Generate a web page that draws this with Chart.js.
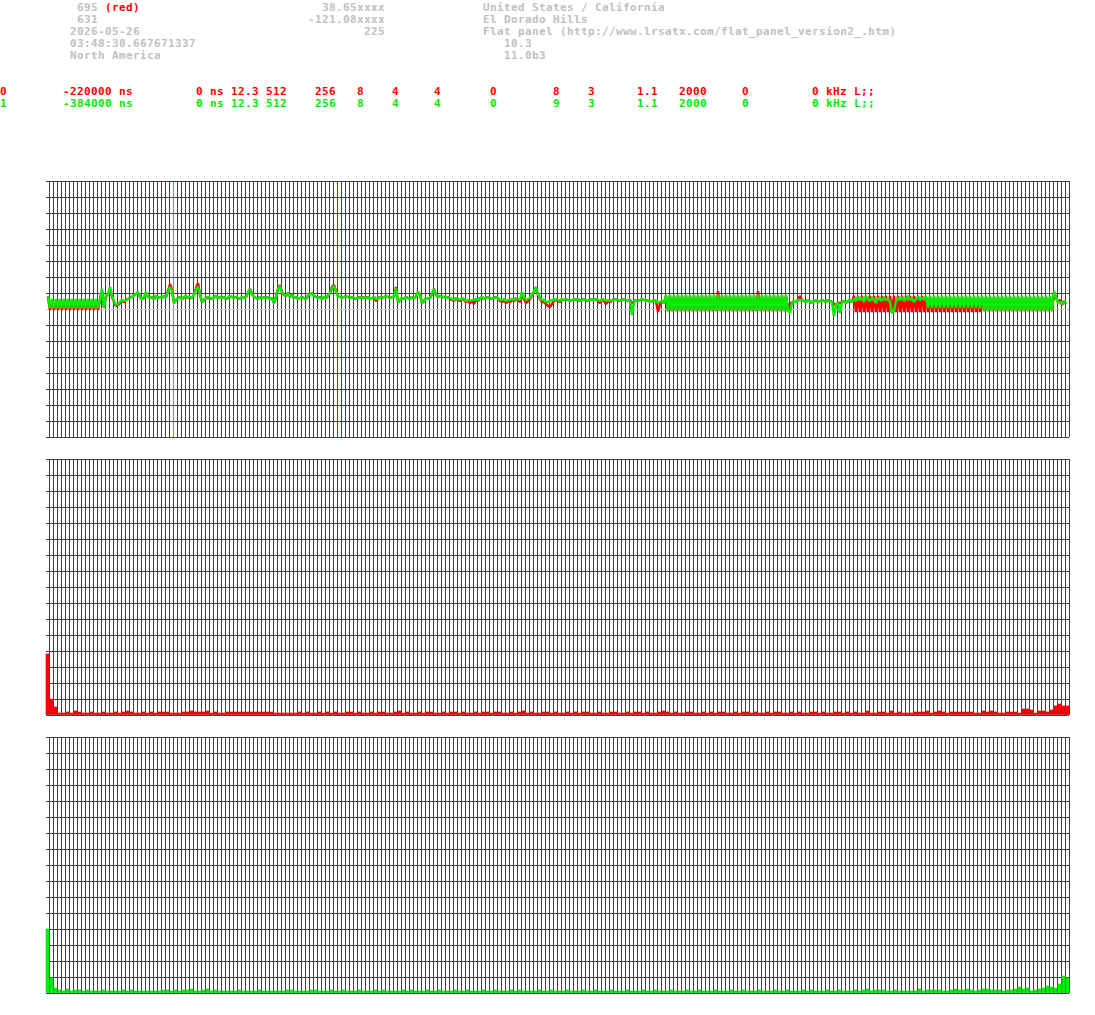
<!DOCTYPE html>
<html>
<head>
<meta charset="utf-8">
<script src="https://cdn.jsdelivr.net/npm/chart.js@4.4.1/dist/chart.umd.min.js"></script>
<style>
body { margin: 0; background: #fff; width: 1095px; height: 1015px; position: relative; overflow: hidden; }
.t { position: absolute; font-family: 'DejaVu Sans Mono', monospace; font-weight: bold; font-size: 11px;
     letter-spacing: 0.38px; line-height: 12px; white-space: pre; }
canvas { position: absolute; left: 0; }
</style>
</head>
<body>
<canvas id="offsets" width="1095" height="266" style="top:176px"></canvas>
<canvas id="histRed" width="1095" height="266" style="top:454px"></canvas>
<canvas id="histGreen" width="1095" height="266" style="top:732px"></canvas>
<script>
// header block: [column, row, text, colour]
const headerText = [
    [11, 0, '695'], [15, 0, '(red)', '#ff0000'], [46, 0, '38.65xxxx'], [69, 0, 'United States / California'],
    [11, 1, '631'], [44, 1, '-121.08xxxx'], [69, 1, 'El Dorado Hills'],
    [10, 2, '2026-05-26'], [52, 2, '225'], [69, 2, 'Flat panel (http://www.lrsatx.com/flat_panel_version2_.htm)'],
    [10, 3, '03:48:30.667671337'], [72, 3, '10.3'],
    [10, 4, 'North America'], [72, 4, '11.0b3']
];
// channel rows
const rowColumns = [0, 9, 28, 45, 51, 56, 62, 70, 79, 84, 91, 97, 106, 116];
const redRow = ['0', '-220000 ns', '0 ns 12.3 512', '256', '8', '4', '4', '0', '8', '3', '1.1', '2000', '0', '0 kHz L;;'];
const greenRow = ['1', '-384000 ns', '0 ns 12.3 512', '256', '8', '4', '4', '0', '9', '3', '1.1', '2000', '0', '0 kHz L;;'];

// top panel: offset trace, one value per sample (512 samples)
const greenOffset = [
    12,20,13,
    1,10,1,10,1,10,1,10,1,10,1,10,1,10,1,10,1,10,1,10,1,10,1,10,1,10,
    20,1,14,14,22,13,8,4,5,7,
    9,8,9,10, 11,12,14,15,17, 12,10,11,17,12,
    11,12,10,13,11,12,11,13,12, 17,22,18, 6,9,
    11,12,10,12,13,11,12,11, 14,20,22,15, 7,9,
    11,12,11,10,12,13,11,12,11,12,10,11,13,12,11,12,11,10,12,11,12,
    16,20,15, 12,11,10,12,11,12,11,12,10,11, 6, 12,20,23,
    17,14,13,16,12,14, 11,12,10,11,12,11,10,
    13,15,16,13,12, 11,12,10,12,11,13, 16,21,23,18,
    13,12,11,12,13,12, 11,12,11,10,11,12,11,12,11,12,10,11,12,
    10,10, 12,11,12,13,12,11,12,12, 21, 7,9,
    11,10,12,11,10,12,11,12, 17,14,6,8, 11,10,11, 15,20,14,
    12,13,12,12,11,12, 11,10,9,11,10,9,11,
    10,8,9,8,9,9,10,9, 11,12,10,11,12,11,10,11,12,11,
    9,9,10,8,9,9,10,9, 11,10,9,17,12,9,10, 11,14,18,22, 15,11,9,
    9,7,7,8,9,9,10,9,8,10,
    9,10,9,8,9,10,9,10,8,9,10,9,8,9,10,9,10,
    9,8,10,9,8,9,8,9, 9,10,9,8,9,10,9,8,9,
    -6,7, 9,8,9,10,9,8,9,7,8,9,8, 6,7,8,6,
    14,-2,14,-2,14,-2,14,-2,14,-2,14,-2,14,-2,14,-2,
    14,-2,14,-2,14,-2,14,-2,14,-2,14,-2,14,-2,14,-2,
    14,-2,14,-2,14,-2,14,-2,14,-2,14,-2,14,-2,14,-2,
    14,-2,14,-2,14,-2,14,-2,14,-2,14,-2,14,-2,
    -4,6, 8,7,9,9,9,8,7,9,8,6,8,9,7,8,9,8,7,9,8,7, -7,4, 6,-4,7,8,6,8,9,7,
    10,8,12,9,11,7,13,10,8,12, 9,6,11,10,8,12,9,10,7,-4, -2,8,11,9,12,8,10,13,9,11, 7,10,12,9,11,10,
    13,1,13,1,13,1,13,1,13,1,13,1,13,1,13,1,13,1,13,1,13,1,13,1,13,1,13,1,
    13,-2,13,-2,13,-2,13,-2,13,-2,13,-2,13,-2,13,-2,13,-2,
    13,-2,13,-2,13,-2,13,-2,13,-2,13,-2,13,-2,13,-2,13,-2,
    18,12, 6,7,5,8,6
];
const redOffset = [
    10,16,12,
    -1,9,-1,9,-1,9,-1,9,-1,9,-1,9,-1,9,-1,9,-1,9,-1,9,-1,9,-1,9,-1,9,
    18,2,13,14,20,12,7,3,4,6,
    8,7,9,10, 11,12,14,15,16, 12,10,11,16,12,
    11,12,10,13,11,12,11,13,12, 18,25,19, 6,9,
    11,12,10,12,13,11,11,11, 14,21,26,14, 7,9,
    11,11,11,10,12,13,11,12,11,12,10,11,13,12,11,12,11,10,12,11,12,
    16,20,15, 12,11,10,12,11,12,11,12,10,11, 6, 12,20,24,
    17,14,13,16,12,14, 11,12,10,11,12,11,10,
    13,15,16,13,12, 11,12,10,12,11,13, 16,22,24,18,
    13,12,11,12,13,12, 11,12,11,10,11,12,11,12,11,12,10,11,12,
    8,10, 12,11,12,13,12,11,12,12, 22, 7,9,
    11,10,12,11,10,12,11,12, 17,14,6,8, 11,10,11, 15,20,14,
    12,13,12,12,11,12, 11,9,8,11,9,8,10,
    9,7,8,6,8,5,9,8, 11,12,10,11,12,11,10,11,12,11,
    8,7,9,6,8,7,9,8, 10,9,7,14,10,6,8, 10,13,17,21, 14,10,7,
    7,5,3,2,5,8,9,8,7,9,
    9,10,9,8,9,10,9,10,8,9,10,9,8,9,10,9,10,
    8,6,10,8,5,8,7,9, 9,10,9,8,9,10,9,8,9,
    6,7, 9,8,9,10,9,8,9,7,8,9,8, -3,5,8,6,
    13,-2,13,-2,13,-2,13,-2,13,-2,13,-2,13,-2,13,-2,
    13,-2,13,-2,13,-2,13,-2,13,-2,18,-2,13,-2,13,-2,
    13,-2,13,-2,13,-2,13,-2,13,-2,13,-2,13,-2,18,-2,
    13,-2,13,-2,13,-2,13,-2,13,-2,13,-2,13,-2,
    6,6, 8,7,9,13,9,8,7,9,8,6,8,9,7,8,9,8,7,9,8,7, 5,4, 6,6,7,8,6,8,9,7,
    13,-3,13,-3,13,-3,13,-3,13,-3,13,-3,13,-3,13,-3,13,-3,
    13,-3,13,-3,13,-3,13,-3,13,-3,13,-3,13,-3,13,-3,13,-3,
    12,-3,12,-3,12,-3,12,-3,12,-3,12,-3,12,-3,12,-3,12,-3,12,-3,12,-3,12,-3,12,-3,12,-3,
    12,-2,12,-2,12,-2,12,-2,12,-2,12,-2,12,-2,12,-2,12,-2,
    12,-2,12,-2,12,-2,12,-2,12,-2,12,-2,12,-2,12,-2,12,-2,
    16,11, 7,9,4,8,5
];

// histograms, 256 bins each
const redHist = [
    61,16,8,2,2,3,2,4,3,2, 2,3,2,2,3,2,2,3,2,3, 4,3,2,2,3,2,3,2,3,3, 3,2,2,2,3,3,4,3,3,3,
    4,2,3,2,2,3,3,3,3,3, 3,3,3,3,3,3,3,2,2,2, 2,2,2,3,2,3,2,2,3,2, 3,2,3,2,2,3,3,2,3,2,
    2,3,2,3,3,2,2,3,4,2, 3,2,2,3,2,3,3,2,2,3, 2,3,3,2,3,2,2,3,2,3, 3,2,3,3,2,2,3,2,3,4,
    2,3,2,2,3,3,2,3,2,2, 3,2,3,2,3,3,2,2,3,2, 2,3,3,2,2,3,2,3,3,2, 3,2,2,3,4,3,2,3,2,2,
    3,3,2,2,3,2,3,2,3,3, 2,2,3,2,3,3,2,3,2,2, 3,2,3,3,2,2,3,2,3,2, 2,3,3,2,3,2,2,3,3,2,
    3,
    2,3,2,2,4,2,2,3,3,2, 4,2,3,2,2,2,3,3,3,4, 2,3,4,3,2,3,3,3,3,3, 3,2,2,4,3,4,3,2,2,3,
    3,3,2,6,6,5,2,4,4,3, 5,9,11,9,9
];
const greenHist = [
    64,15,5,3,2,4,2,3,3,2, 3,2,2,2,3,2,2,2,2,3, 2,3,2,2,2,2,2,2,2,3, 3,2,3,2,3,3,4,2,2,3,
    4,2,3,2,2,2,2,2,3,2, 2,2,2,3,2,2,2,2,2,2, 3,3,2,2,2,2,3,3,2,2, 2,3,2,2,3,2,2,2,3,2,
    2,2,3,2,3,2,2,2,2,3, 2,3,2,2,2,3,2,2,3,2, 2,2,3,2,2,3,2,2,2,3, 2,2,3,2,2,2,3,2,3,2,
    2,2,2,3,2,2,3,2,2,2, 3,2,2,2,3,2,2,3,2,2, 2,3,2,2,2,3,2,2,2,3, 2,2,3,2,2,2,3,2,2,2,
    3,2,2,3,2,2,2,3,2,2, 2,3,2,2,3,2,2,2,3,2, 2,2,3,2,2,3,2,2,2,3, 2,3,2,2,2,3,2,2,3,2,
    2,
    2,3,2,3,4,2,3,3,3,2, 2,3,2,2,2,2,2,4,2,3, 3,3,3,2,2,3,4,3,3,4, 3,2,3,4,4,3,3,3,2,3,
    3,4,6,4,5,2,3,4,5,7, 6,5,9,17,15
];

const RED = '#ff0000';
const GREEN = '#00ee00';
const GRID = '#404040';
const markerCols = { 31: GREEN, 72: RED };

const putText = (col, txt, color, top) => {
    const el = document.createElement('div');
    el.className = 't';
    el.style.left = (col * 7) + 'px';
    el.style.top = top + 'px';
    el.style.color = color;
    el.textContent = txt;
    document.body.appendChild(el);
};
headerText.forEach(h => putText(h[0], h[2], h[3] || '#c0c0c0', 2 + h[1] * 12));
redRow.forEach((s, i) => putText(rowColumns[i], s, RED, 86));
greenRow.forEach((s, i) => putText(rowColumns[i], s, GREEN, 98));

const xScale = (colorFn) => ({
    type: 'linear', min: 0, max: 255, offset: false,
    ticks: { display: false, stepSize: 1, autoSkip: false },
    grid: { color: colorFn || GRID, lineWidth: 1, drawTicks: false, offset: false },
    border: { display: false }
});
const yScale = (min, max, colorFn) => ({
    type: 'linear', min: min, max: max,
    ticks: { display: false, stepSize: 16 },
    grid: { color: colorFn || GRID, lineWidth: 1, drawTicks: true, tickLength: 3 },
    border: { display: false }
});
const baseOptions = (scales) => ({
    responsive: false, animation: false, devicePixelRatio: 1, events: [],
    layout: { padding: { left: 46, right: 26, top: 5, bottom: 5 } },
    plugins: { legend: { display: false }, tooltip: { enabled: false } },
    scales: scales
});

const trace = arr => arr.map((v, i) => ({ x: i / 2 - 1.25, y: v }));
const bins = arr => arr.map((v, k) => ({ x: k - 0.375, y: v }));

new Chart(document.getElementById('offsets'), {
    type: 'line',
    data: {
        datasets: [
            { data: trace(greenOffset), borderColor: GREEN, borderWidth: 2.5, borderJoinStyle: 'bevel', pointRadius: 0, tension: 0, clip: false },
            { data: trace(redOffset), borderColor: RED, borderWidth: 2.5, borderJoinStyle: 'bevel', pointRadius: 0, tension: 0, clip: false }
        ]
    },
    options: baseOptions({
        x: xScale(c => markerCols[c.tick && c.tick.value] || GRID),
        y: yScale(-128, 128, c => (c.tick && c.tick.value === 0) ? '#c8c8c8' : GRID)
    })
});

const histChart = (id, values, color) => new Chart(document.getElementById(id), {
    type: 'bar',
    data: {
        datasets: [{ data: bins(values), backgroundColor: color, borderWidth: 0, barThickness: 3, clip: false }]
    },
    options: baseOptions({ x: xScale(), y: yScale(0, 256) })
});
histChart('histRed', redHist, RED);
histChart('histGreen', greenHist, GREEN);
</script>
</body>
</html>
